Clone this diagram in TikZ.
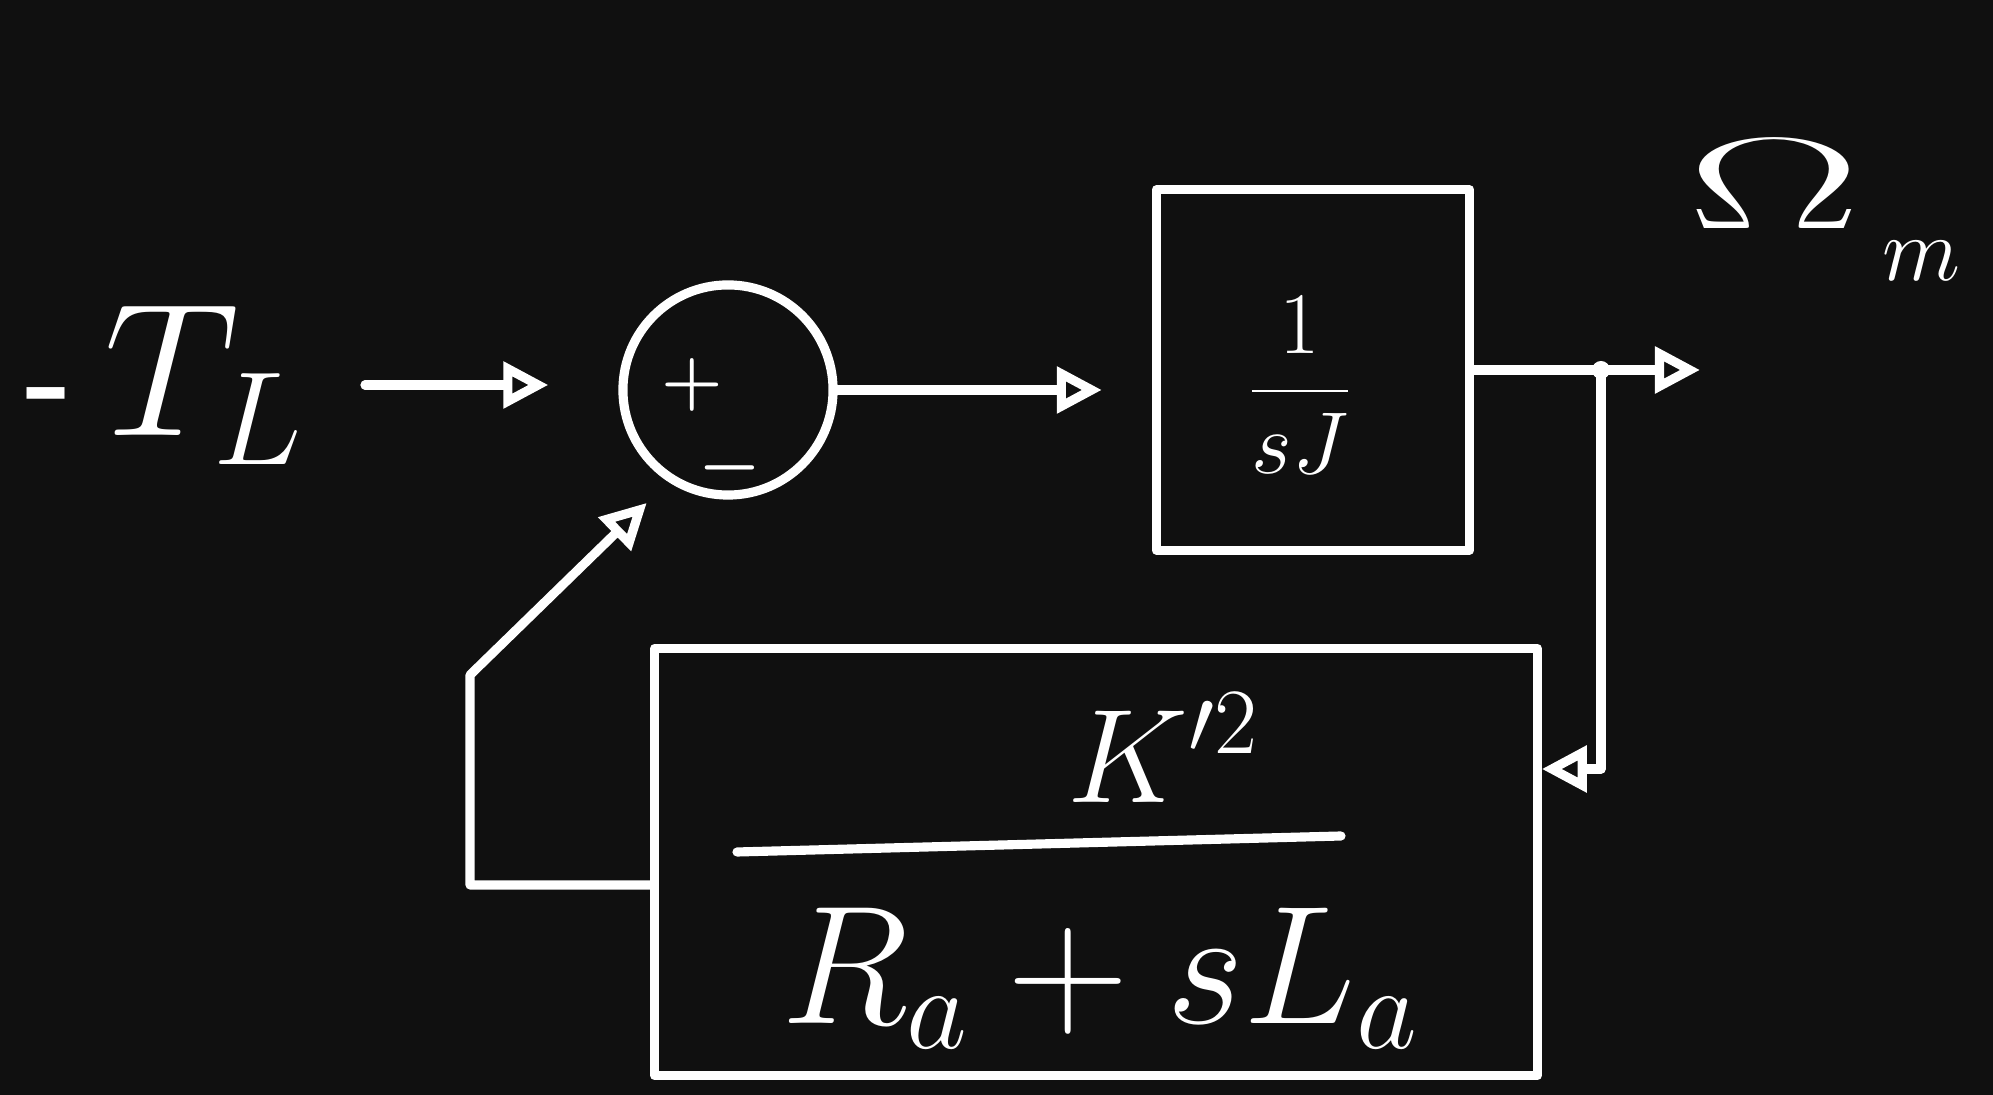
\RequirePackage{fix-cm}
\documentclass[tikz,border=0pt]{standalone}
\usetikzlibrary{arrows.meta}
\definecolor{board}{RGB}{16,16,16}
\begin{document}
\begin{tikzpicture}[x=0.01cm,y=-0.01cm,
  chalk/.style={draw=white, line width=2.6pt, line cap=round, line join=round},
  arr/.style={chalk, -{Triangle[open,length=4.5mm,width=4.5mm]}},
  blockbox/.style={chalk, rectangle, inner sep=0pt},
  lbl/.style={text=white, inner sep=0pt},
]
\fill[board] (0,0) rectangle (1993,1095);
\useasboundingbox (0,0) rectangle (1993,1095);

% input label
\node[lbl, font=\fontsize{54}{58}\selectfont] (in) at (165,385) {\raisebox{4pt}{\fontsize{36}{36}\selectfont\bfseries -}\,$T_L$};

% summing junction
\node[chalk, circle, minimum size=2.1cm] (sum) at (728,390) {};
\node[lbl, font=\fontsize{20}{22}\selectfont\boldmath] (plus) at (692,385) {$+$};
\node[lbl, font=\fontsize{20}{22}\selectfont\boldmath] (minus) at (730,468) {$-$};

% forward block 1/sJ
\node[blockbox, minimum width=3.13cm, minimum height=3.6cm] (G) at (1313,370) {};
\node[lbl, font=\fontsize{25}{30}\selectfont] (Gtxt) at (1300,385) {$\displaystyle\frac{1}{sJ}$};

% feedback block
\node[blockbox, minimum width=8.82cm, minimum height=4.27cm] (H) at (1096,862) {};
\node[lbl, font=\fontsize{38}{42}\selectfont] (Hnum) at (1163,748) {$K'^{2}$};
\draw[chalk] (737,852) -- (1341,836);
\node[lbl, font=\fontsize{48}{52}\selectfont] (Hden) at (1100,978) {$R_a+sL_a$};

% output
\coordinate (tap) at (1601,370);
\coordinate (out) at (1700,370);
\node[lbl, font=\fontsize{37}{40}\selectfont] (om) at (1824,210) {$\scalebox{2}[1]{$\Omega$}\,\lower15pt\hbox{$\scriptstyle m$}$};

% connectors
\draw[arr, shorten <=6mm, shorten >=7mm] (in.east) -- (sum.west |- in.east);
\draw[arr, shorten >=5mm] (sum.east) -- (G.west |- sum.east);
\draw[arr] (G.east |- tap) -- (out);
\fill[white] (tap) circle (9);
\coordinate (fbc) at (1601,769);
\draw[arr] (tap) -- (fbc) -- (H.east |- fbc);
\coordinate (r1) at (470,885);
\coordinate (r2) at (470,675);
\draw[arr, shorten >=3mm] (H.west |- r1) -- (r1) -- (r2) -- (sum.237);
\end{tikzpicture}
\end{document}
